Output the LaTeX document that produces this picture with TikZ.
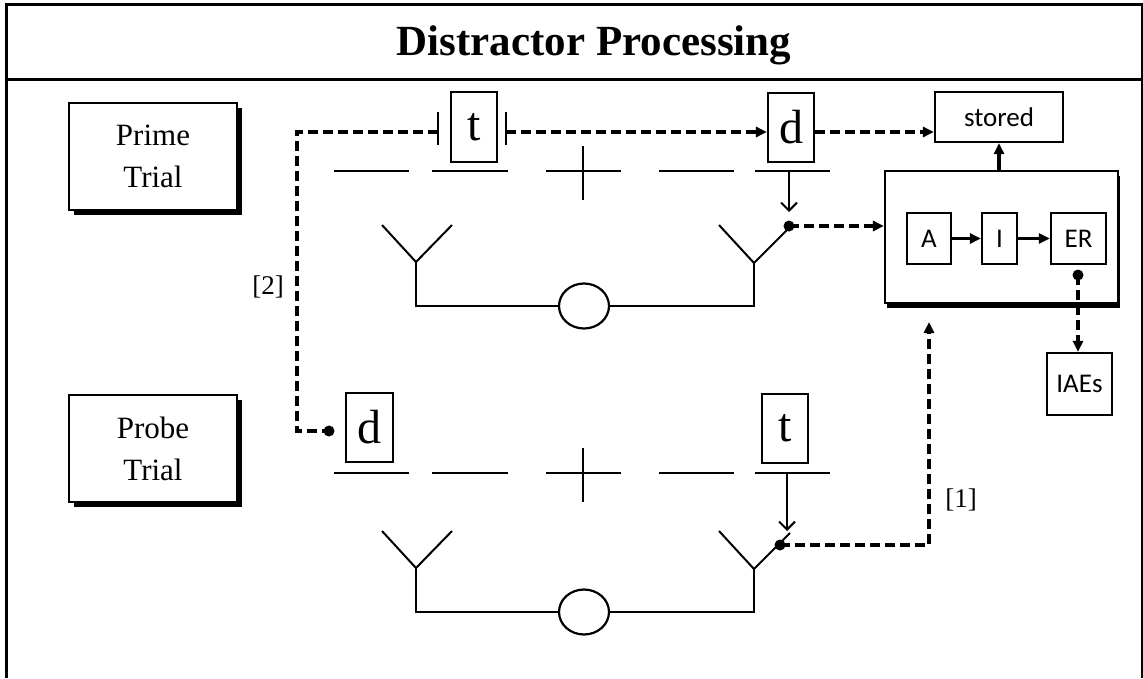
\documentclass[tikz,border=0pt]{standalone}
\usepackage{fontspec}
\setmainfont{Liberation Serif}
\newfontfamily\calib{Carlito}
\usetikzlibrary{arrows.meta,shadows}
\begin{document}
\begin{tikzpicture}[x=1pt,y=-1pt,
  box/.style={draw, line width=2.2pt, fill=white, inner sep=0pt, align=center},
  shbox/.style={box, drop shadow={shadow xshift=5pt, shadow yshift=-5pt, fill=black, opacity=1}},
  bigshbox/.style={box, drop shadow={shadow xshift=2pt, shadow yshift=-5pt, fill=black, opacity=1}},
  ln/.style={line width=2pt},
  frame/.style={line width=3pt},
  dsh/.style={line width=3.8pt, dash pattern=on 10pt off 5pt},
  tri/.style={-{Triangle[length=11pt,width=10pt]}},
  blob/.style={circle, fill=black, inner sep=0pt, minimum size=11pt},
  barb/.style={-{Straight Barb[length=8pt,width=16pt,line width=2pt]}},
  serif/.style={font=\fontsize{31}{38}\selectfont},
  letter/.style={font=\fontsize{48}{48}\selectfont},
  sans/.style={font=\calib\fontsize{27}{27}\selectfont}]
\useasboundingbox (0,0) rectangle (1143,678);
% frame
\draw[frame] (6.5,678) -- (6.5,4) -- (1142,4) -- (1142,678);
\draw[frame] (6.5,79) -- (1142,79);
\node[font=\fontsize{43}{43}\selectfont\bfseries, anchor=base] (title) at (594,55) {Distractor Processing};

% trial boxes
\node[shbox, serif, minimum width=168pt, minimum height=107pt] (prime) at (153,156.5) {Prime\\[4pt]Trial};
\node[shbox, serif, minimum width=168pt, minimum height=107pt] (probe) at (153,448.5) {Probe\\[4pt]Trial};

% line rows
\foreach \y in {171,473}{
  \foreach \a/\b in {334/409,432/508,546/621,659/734,755/830}
    \draw[ln] (\a,\y) -- (\b,\y);
  \draw[ln] (583,\y-25) -- (583,\y+29);
}
% Y shapes and circles
\foreach \s in {0,306}{
  \draw[ln] (382,225+\s) -- (416,262+\s) -- (452,225+\s);
  \draw[ln] (719,225+\s) -- (754,263+\s) -- (790,227+\s);
  \draw[ln] (416,262+\s) -- (416,306+\s) -- (754,306+\s) -- (754,263+\s);
  \draw[line width=2.2pt, fill=white] (584,306+\s) ellipse [x radius=25, y radius=22.5];
}

% prime row boxes
\node[box, letter, minimum width=46pt, minimum height=70pt] (t1) at (474,127) {t};
\node[box, letter, minimum width=46pt, minimum height=69pt] (d1) at (791,127.5) {d};
\node[box, sans, minimum width=128pt, minimum height=50pt] (stored) at (999,117) {stored};
% probe row boxes
\node[box, letter, minimum width=47pt, minimum height=69pt] (d2) at (369.5,427.5) {d};
\node[box, letter, minimum width=46pt, minimum height=69pt] (t2) at (785,428.5) {t};

% processing box
\node[bigshbox, minimum width=233pt, minimum height=132pt] (big) at (1001.5,237) {};
\node[box, sans, minimum width=44pt, minimum height=51pt] (A) at (929,238.5) {A};
\node[box, sans, minimum width=35pt, minimum height=51pt] (I) at (999.5,238.5) {I};
\node[box, sans, minimum width=55pt, minimum height=51pt] (ER) at (1078.5,238.5) {ER};
\node[box, sans, minimum width=65pt, minimum height=62pt] (IAEs) at (1079.5,384) {IAEs};

% coordinates and dots
\coordinate (tbL) at (438,132);
\coordinate (tbR) at (506,132);
\coordinate (c2) at (297,132);
\coordinate (s1) at (789,171);
\coordinate (tip1) at (789,212);
\coordinate (s2) at (787,473);
\coordinate (tip2) at (787,531);
\coordinate (c1) at (929,545);
\coordinate (in1) at (929,322);
\node[blob] (d2in) at (329,431) {};
\node[blob] (dot1) at (789,226) {};
\node[blob] (dot2) at (780,545) {};
\node[blob] (erdot) at (1078,275) {};

% bars around t
\draw[line width=2.5pt] (438,112) -- (438,145);
\draw[line width=2.5pt] (506,112) -- (506,145);

% connectors
\draw[dsh] (tbL) -- (c2) |- (d2in.center);
\draw[dsh, tri] (tbR) -- (d1.west |- tbR);
\draw[dsh, tri] (d1.east |- tbR) -- (stored.west |- tbR);
\draw[ln, barb] (s1) -- (tip1);
\draw[dsh, tri] (dot1.center) -- (big.west |- dot1);
\draw[line width=3.5pt, tri] (big.north -| stored) -- (stored.south);
\draw[line width=3.5pt, tri] (A) -- (I);
\draw[line width=2.5pt, tri] (I) -- (ER);
\draw[dsh, tri] (erdot.center) -- (erdot |- IAEs.north);
\draw[ln, barb] (s2) -- (tip2);
\draw[dsh, tri] (dot2.center) -- (c1) -- (in1);

% labels
\node[font=\fontsize{27}{27}\selectfont] (l2) at (268,287) {[2]};
\node[font=\fontsize{27}{27}\selectfont] (l1) at (961,500) {[1]};
\end{tikzpicture}
\end{document}
